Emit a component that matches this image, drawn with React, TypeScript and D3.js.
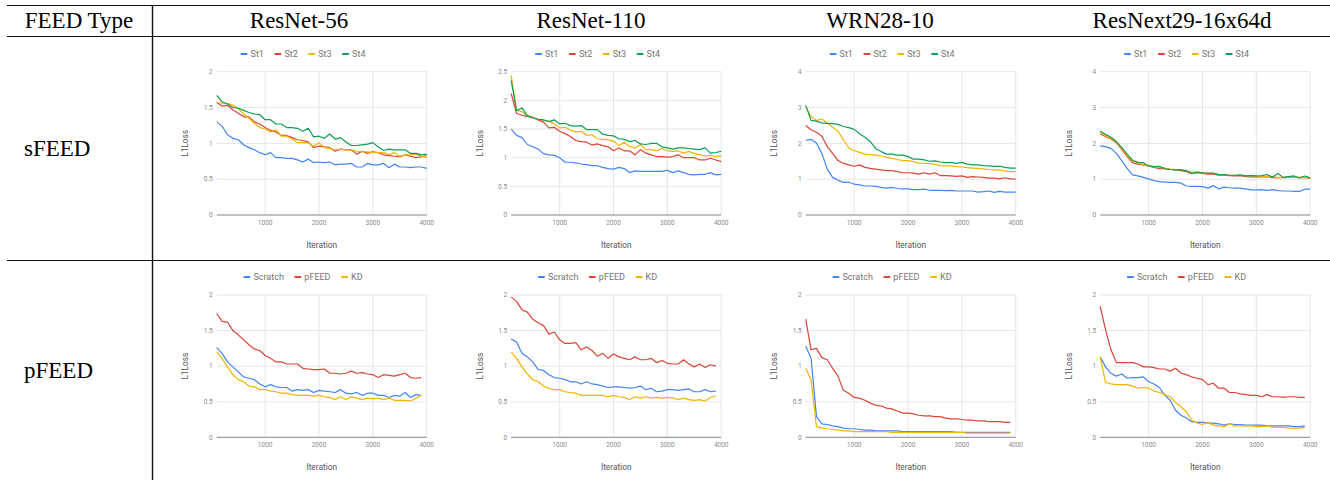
import React, { useEffect, useRef } from 'react';
import * as d3 from 'd3';

const MODELS = ['ResNet-56', 'ResNet-110', 'WRN28-10', 'ResNext29-16x64d'];
const MODEL_CENTERS = [299, 591, 880, 1182];
const ROWS = ['sFEED', 'pFEED'];
const S_NAMES = ['St1', 'St2', 'St3', 'St4'];
const P_NAMES = ['Scratch', 'pFEED', 'KD'];
const S_COLORS = ['#4285F4', '#DB4437', '#F4B400', '#0F9D58'];
const P_COLORS = ['#4285F4', '#DB4437', '#F4B400'];

const ITER_S = [100, 200, 300, 400, 500, 600, 700, 800, 900, 1000, 1100, 1200, 1300, 1400, 1500, 1600, 1700, 1800, 1900, 2000,
  2100, 2200, 2300, 2400, 2500, 2600, 2700, 2800, 2900, 3000, 3100, 3200, 3300, 3400, 3500, 3600, 3700, 3800, 3900, 4000];
const ITER_P = [100, 200, 300, 400, 500, 600, 700, 800, 900, 1000, 1100, 1200, 1300, 1400, 1500, 1600, 1700, 1800, 1900, 2000,
  2100, 2200, 2300, 2400, 2500, 2600, 2700, 2800, 2900, 3000, 3100, 3200, 3300, 3400, 3500, 3600, 3700, 3800, 3900];
const X_TICKS = [1000, 2000, 3000, 4000];
const Y_TICKS_S = [[0, 0.5, 1, 1.5, 2], [0, 0.5, 1, 1.5, 2, 2.5], [0, 1, 2, 3, 4], [0, 1, 2, 3, 4]];
const Y_TICKS_P = [0, 0.5, 1, 1.5, 2];

// sFEED, ResNet-56
const R56_ST1 = [1.30, 1.24, 1.12, 1.07, 1.05, 0.98, 0.94, 0.91, 0.87, 0.84, 0.87, 0.80, 0.80, 0.79, 0.79, 0.77, 0.74, 0.78, 0.73, 0.74,
  0.73, 0.74, 0.70, 0.71, 0.71, 0.72, 0.67, 0.67, 0.72, 0.70, 0.70, 0.72, 0.66, 0.71, 0.67, 0.67, 0.66, 0.67, 0.67, 0.65];
const R56_ST2 = [1.57, 1.52, 1.53, 1.47, 1.42, 1.37, 1.37, 1.30, 1.27, 1.22, 1.18, 1.16, 1.11, 1.11, 1.08, 1.05, 1.04, 1.02, 0.94, 0.96,
  0.95, 0.94, 0.89, 0.92, 0.91, 0.91, 0.85, 0.89, 0.86, 0.88, 0.87, 0.84, 0.83, 0.82, 0.81, 0.84, 0.82, 0.80, 0.81, 0.83];
const R56_ST3 = [1.57, 1.56, 1.56, 1.53, 1.49, 1.41, 1.35, 1.28, 1.22, 1.20, 1.16, 1.19, 1.10, 1.10, 1.06, 1.01, 1.01, 1.01, 0.96, 1.01,
  0.94, 0.93, 0.91, 0.92, 0.91, 0.91, 0.89, 0.88, 0.88, 0.87, 0.87, 0.87, 0.84, 0.87, 0.82, 0.84, 0.84, 0.85, 0.82, 0.80];
const R56_ST4 = [1.67, 1.58, 1.55, 1.50, 1.49, 1.46, 1.43, 1.41, 1.40, 1.33, 1.33, 1.27, 1.27, 1.22, 1.22, 1.21, 1.17, 1.21, 1.09, 1.10,
  1.07, 1.13, 1.06, 1.08, 1.02, 0.97, 0.97, 0.98, 0.99, 1.01, 0.95, 0.90, 0.92, 0.91, 0.91, 0.91, 0.86, 0.86, 0.84, 0.85];

// sFEED, ResNet-110
const R110_ST1 = [1.50, 1.39, 1.35, 1.23, 1.19, 1.15, 1.07, 1.05, 1.04, 1.00, 0.92, 0.92, 0.91, 0.89, 0.88, 0.86, 0.86, 0.83, 0.81, 0.80,
  0.83, 0.81, 0.74, 0.77, 0.76, 0.76, 0.76, 0.76, 0.76, 0.78, 0.74, 0.77, 0.74, 0.71, 0.70, 0.71, 0.71, 0.74, 0.70, 0.71];
const R110_ST2 = [2.12, 1.77, 1.74, 1.72, 1.70, 1.66, 1.62, 1.52, 1.53, 1.46, 1.42, 1.37, 1.30, 1.28, 1.27, 1.22, 1.24, 1.21, 1.19, 1.12,
  1.17, 1.12, 1.12, 1.05, 1.14, 1.08, 1.05, 1.02, 1.02, 1.01, 1.02, 1.05, 1.00, 1.00, 1.00, 0.96, 0.96, 0.99, 0.96, 0.93];
const R110_ST3 = [2.43, 1.83, 1.80, 1.74, 1.70, 1.67, 1.65, 1.64, 1.59, 1.52, 1.53, 1.48, 1.45, 1.46, 1.39, 1.40, 1.33, 1.32, 1.31, 1.29,
  1.21, 1.27, 1.19, 1.17, 1.23, 1.14, 1.14, 1.12, 1.16, 1.12, 1.11, 1.12, 1.08, 1.11, 1.07, 1.05, 1.03, 1.04, 1.02, 1.03];
const R110_ST4 = [2.35, 1.82, 1.87, 1.73, 1.70, 1.67, 1.66, 1.63, 1.66, 1.59, 1.60, 1.56, 1.55, 1.56, 1.49, 1.49, 1.49, 1.41, 1.39, 1.38,
  1.33, 1.32, 1.28, 1.30, 1.24, 1.23, 1.25, 1.25, 1.19, 1.17, 1.15, 1.17, 1.17, 1.16, 1.15, 1.14, 1.17, 1.08, 1.09, 1.11];

// sFEED, WRN28-10
const WRN_ST1 = [2.08, 2.11, 2.01, 1.72, 1.28, 1.05, 0.97, 0.91, 0.92, 0.86, 0.84, 0.81, 0.81, 0.80, 0.77, 0.75, 0.77, 0.74, 0.73, 0.73,
  0.71, 0.71, 0.72, 0.69, 0.69, 0.69, 0.68, 0.69, 0.67, 0.67, 0.67, 0.67, 0.64, 0.65, 0.67, 0.63, 0.66, 0.64, 0.64, 0.64];
const WRN_ST2 = [2.50, 2.38, 2.31, 2.20, 1.91, 1.72, 1.52, 1.44, 1.40, 1.36, 1.40, 1.33, 1.30, 1.28, 1.26, 1.24, 1.24, 1.21, 1.18, 1.18,
  1.17, 1.14, 1.18, 1.14, 1.18, 1.10, 1.10, 1.09, 1.08, 1.09, 1.05, 1.07, 1.06, 1.05, 1.03, 1.03, 1.01, 1.04, 1.01, 1.00];
const WRN_ST3 = [3.02, 2.74, 2.64, 2.68, 2.57, 2.45, 2.34, 2.10, 1.87, 1.80, 1.75, 1.70, 1.68, 1.68, 1.64, 1.61, 1.58, 1.55, 1.52, 1.52,
  1.49, 1.45, 1.44, 1.44, 1.41, 1.38, 1.37, 1.37, 1.35, 1.34, 1.32, 1.31, 1.30, 1.29, 1.27, 1.26, 1.25, 1.23, 1.21, 1.21];
const WRN_ST4 = [3.06, 2.64, 2.62, 2.57, 2.56, 2.55, 2.53, 2.47, 2.44, 2.39, 2.27, 2.17, 2.05, 1.85, 1.77, 1.70, 1.70, 1.67, 1.67, 1.63,
  1.56, 1.56, 1.54, 1.50, 1.51, 1.48, 1.46, 1.47, 1.44, 1.47, 1.42, 1.40, 1.40, 1.38, 1.37, 1.36, 1.36, 1.33, 1.31, 1.31];

// sFEED, ResNext29-16x64d
const RNX_ST1 = [1.93, 1.91, 1.86, 1.72, 1.52, 1.30, 1.12, 1.09, 1.05, 1.01, 0.96, 0.93, 0.92, 0.91, 0.91, 0.89, 0.81, 0.80, 0.80, 0.79,
  0.75, 0.82, 0.73, 0.78, 0.76, 0.75, 0.75, 0.73, 0.70, 0.70, 0.71, 0.69, 0.71, 0.68, 0.67, 0.67, 0.66, 0.66, 0.72, 0.72];
const RNX_ST2 = [2.26, 2.19, 2.12, 2.02, 1.83, 1.63, 1.46, 1.42, 1.40, 1.37, 1.33, 1.29, 1.30, 1.27, 1.26, 1.24, 1.21, 1.16, 1.18, 1.16,
  1.14, 1.14, 1.11, 1.11, 1.10, 1.09, 1.10, 1.07, 1.06, 1.07, 1.06, 1.07, 1.04, 1.04, 1.04, 1.05, 1.05, 1.04, 1.05, 1.02];
const RNX_ST3 = [2.30, 2.21, 2.14, 2.03, 1.86, 1.66, 1.51, 1.46, 1.40, 1.38, 1.35, 1.33, 1.31, 1.28, 1.27, 1.26, 1.23, 1.20, 1.20, 1.18,
  1.16, 1.16, 1.13, 1.13, 1.11, 1.11, 1.11, 1.09, 1.09, 1.07, 1.07, 1.08, 1.07, 1.05, 1.05, 1.06, 1.06, 1.05, 1.05, 1.03];
const RNX_ST4 = [2.34, 2.25, 2.17, 2.05, 1.89, 1.70, 1.53, 1.47, 1.46, 1.37, 1.35, 1.36, 1.29, 1.27, 1.26, 1.26, 1.24, 1.15, 1.20, 1.18,
  1.17, 1.17, 1.13, 1.13, 1.11, 1.11, 1.12, 1.09, 1.10, 1.09, 1.10, 1.13, 1.06, 1.16, 1.05, 1.07, 1.09, 1.04, 1.09, 1.04];

// pFEED, ResNet-56
const R56_SCRATCH = [1.26, 1.18, 1.06, 0.99, 0.92, 0.85, 0.83, 0.81, 0.75, 0.71, 0.74, 0.71, 0.70, 0.70, 0.65, 0.67, 0.66, 0.67, 0.63, 0.66,
  0.65, 0.64, 0.63, 0.67, 0.62, 0.61, 0.63, 0.59, 0.62, 0.62, 0.59, 0.59, 0.56, 0.59, 0.58, 0.63, 0.56, 0.60, 0.59];
const R56_PFEED = [1.74, 1.63, 1.62, 1.50, 1.44, 1.37, 1.30, 1.24, 1.22, 1.15, 1.11, 1.06, 1.06, 1.03, 1.03, 1.03, 0.97, 0.96, 0.95, 0.95,
  0.96, 0.90, 0.90, 0.89, 0.90, 0.93, 0.90, 0.91, 0.89, 0.88, 0.84, 0.88, 0.87, 0.86, 0.88, 0.90, 0.84, 0.83, 0.84];
const R56_KD = [1.20, 1.11, 0.99, 0.88, 0.81, 0.78, 0.72, 0.71, 0.67, 0.67, 0.65, 0.64, 0.62, 0.62, 0.60, 0.59, 0.59, 0.59, 0.58, 0.59,
  0.57, 0.56, 0.53, 0.57, 0.53, 0.57, 0.55, 0.53, 0.55, 0.54, 0.55, 0.53, 0.55, 0.52, 0.52, 0.52, 0.51, 0.55, 0.59];

// pFEED, ResNet-110
const R110_SCRATCH = [1.38, 1.34, 1.18, 1.13, 1.06, 0.95, 0.94, 0.88, 0.84, 0.83, 0.81, 0.78, 0.78, 0.75, 0.78, 0.75, 0.74, 0.72, 0.70, 0.71,
  0.71, 0.70, 0.69, 0.70, 0.72, 0.67, 0.69, 0.64, 0.65, 0.67, 0.67, 0.66, 0.67, 0.68, 0.64, 0.64, 0.67, 0.64, 0.65];
const R110_PFEED = [1.97, 1.91, 1.79, 1.76, 1.66, 1.61, 1.57, 1.45, 1.48, 1.37, 1.32, 1.32, 1.33, 1.23, 1.27, 1.22, 1.14, 1.18, 1.11, 1.17,
  1.13, 1.11, 1.09, 1.13, 1.09, 1.09, 1.11, 1.05, 1.08, 1.04, 1.03, 1.03, 1.09, 1.03, 0.99, 1.03, 0.98, 1.02, 1.00];
const R110_KD = [1.20, 1.11, 0.99, 0.89, 0.81, 0.78, 0.72, 0.69, 0.67, 0.67, 0.64, 0.63, 0.62, 0.59, 0.59, 0.59, 0.59, 0.59, 0.57, 0.59,
  0.57, 0.56, 0.53, 0.57, 0.55, 0.57, 0.55, 0.56, 0.55, 0.56, 0.55, 0.53, 0.55, 0.53, 0.52, 0.53, 0.51, 0.56, 0.58];

// pFEED, WRN28-10
const WRN_SCRATCH = [1.28, 1.11, 0.29, 0.19, 0.18, 0.16, 0.15, 0.13, 0.12, 0.12, 0.11, 0.10, 0.10, 0.09, 0.09, 0.09, 0.09, 0.09, 0.08, 0.08,
  0.08, 0.08, 0.08, 0.08, 0.08, 0.08, 0.08, 0.08, 0.07, 0.07, 0.07, 0.07, 0.07, 0.07, 0.07, 0.07, 0.07, 0.07, 0.07];
const WRN_PFEED = [1.66, 1.23, 1.25, 1.12, 1.09, 0.97, 0.86, 0.66, 0.62, 0.56, 0.55, 0.52, 0.48, 0.45, 0.44, 0.41, 0.40, 0.37, 0.34, 0.34,
  0.33, 0.31, 0.30, 0.30, 0.29, 0.29, 0.27, 0.26, 0.26, 0.25, 0.24, 0.24, 0.23, 0.23, 0.22, 0.22, 0.22, 0.21, 0.21];
const WRN_KD = [0.97, 0.81, 0.15, 0.13, 0.12, 0.11, 0.10, 0.09, 0.09, 0.08, 0.08, 0.08, 0.08, 0.08, 0.08, 0.08, 0.07, 0.07, 0.07, 0.07,
  0.07, 0.07, 0.07, 0.07, 0.07, 0.07, 0.07, 0.07, 0.07, 0.07, 0.06, 0.06, 0.06, 0.06, 0.06, 0.06, 0.06, 0.06, 0.06];

// pFEED, ResNext29-16x64d
const RNX_SCRATCH = [1.13, 0.99, 0.90, 0.86, 0.89, 0.83, 0.84, 0.84, 0.85, 0.78, 0.75, 0.70, 0.59, 0.52, 0.38, 0.31, 0.27, 0.22, 0.21, 0.21,
  0.20, 0.20, 0.19, 0.17, 0.19, 0.18, 0.18, 0.17, 0.17, 0.17, 0.17, 0.16, 0.16, 0.16, 0.16, 0.16, 0.15, 0.15, 0.16];
const RNX_PFEED = [1.84, 1.51, 1.23, 1.05, 1.05, 1.05, 1.05, 1.03, 0.99, 0.99, 0.98, 0.96, 0.96, 0.93, 0.97, 0.90, 0.88, 0.85, 0.83, 0.81,
  0.74, 0.76, 0.69, 0.69, 0.63, 0.63, 0.61, 0.60, 0.59, 0.59, 0.57, 0.60, 0.57, 0.57, 0.56, 0.57, 0.57, 0.56, 0.56];
const RNX_KD = [1.13, 0.77, 0.75, 0.74, 0.74, 0.74, 0.72, 0.69, 0.70, 0.69, 0.65, 0.63, 0.60, 0.57, 0.49, 0.43, 0.36, 0.24, 0.20, 0.18,
  0.21, 0.17, 0.16, 0.15, 0.19, 0.16, 0.16, 0.16, 0.16, 0.15, 0.15, 0.16, 0.14, 0.14, 0.14, 0.13, 0.13, 0.13, 0.14];

const S_SERIES = [
  [R56_ST1, R56_ST2, R56_ST3, R56_ST4],
  [R110_ST1, R110_ST2, R110_ST3, R110_ST4],
  [WRN_ST1, WRN_ST2, WRN_ST3, WRN_ST4],
  [RNX_ST1, RNX_ST2, RNX_ST3, RNX_ST4],
];
const P_SERIES = [
  [R56_SCRATCH, R56_PFEED, R56_KD],
  [R110_SCRATCH, R110_PFEED, R110_KD],
  [WRN_SCRATCH, WRN_PFEED, WRN_KD],
  [RNX_SCRATCH, RNX_PFEED, RNX_KD],
];

const W = 1330;
const H = 480;
const FONT = 'Roboto, "Noto Sans", sans-serif';
const SERIF = '"Liberation Serif", "DejaVu Serif", serif';

export default function App() {
  const svgRef = useRef<SVGSVGElement>(null);

  useEffect(() => {
    const svg = d3.select(svgRef.current);
    svg.selectAll('*').remove();

    const colLeft = 152;
    const colW = 294.5;
    const plotOff = 64.7;
    const plotW = 210;
    const rows = [
      { top: 71.7, bottom: 215, legendY: 54, tickY: 225, titleY: 247.5, names: S_NAMES, colors: S_COLORS, iters: ITER_S, series: S_SERIES },
      { top: 295, bottom: 437.3, legendY: 277, tickY: 446.8, titleY: 469.5, names: P_NAMES, colors: P_COLORS, iters: ITER_P, series: P_SERIES },
    ];

    // table rules
    const rules = svg.append('g').attr('stroke', '#111').attr('stroke-width', 1);
    rules.append('line').attr('x1', 7).attr('x2', W).attr('y1', 5.5).attr('y2', 5.5);
    rules.append('line').attr('x1', 7).attr('x2', W).attr('y1', 36.5).attr('y2', 36.5);
    rules.append('line').attr('x1', 7).attr('x2', W).attr('y1', 260.5).attr('y2', 260.5);
    rules.append('line').attr('x1', 152.5).attr('x2', 152.5).attr('y1', 5).attr('y2', H).attr('stroke-width', 1.4);

    svg.append('text')
      .attr('x', 79).attr('y', 28)
      .attr('text-anchor', 'middle')
      .attr('font-family', SERIF).attr('font-size', 23)
      .text('FEED Type');

    MODELS.forEach((m, i) => {
      svg.append('text')
        .attr('x', MODEL_CENTERS[i]).attr('y', 28)
        .attr('text-anchor', 'middle')
        .attr('font-family', SERIF).attr('font-size', 23)
        .text(m);
    });

    ROWS.forEach((r, ri) => {
      svg.append('text')
        .attr('x', 24).attr('y', ri === 0 ? 156 : 378)
        .attr('font-family', SERIF).attr('font-size', 23)
        .text(r);
    });

    rows.forEach((row, ri) => {
      MODELS.forEach((_, ci) => {
        const cx = colLeft + ci * colW;
        const left = cx + plotOff;
        const yTicks = ri === 0 ? Y_TICKS_S[ci] : Y_TICKS_P;
        const yMax = yTicks[yTicks.length - 1];

        const x = d3.scaleLinear().domain([100, 4000]).range([left, left + plotW]);
        const y = d3.scaleLinear().domain([0, yMax]).range([row.bottom, row.top]);

        const g = svg.append('g');

        // gridlines
        yTicks.filter(t => t > 0).forEach(t => {
          g.append('line')
            .attr('x1', left).attr('x2', left + plotW)
            .attr('y1', y(t)).attr('y2', y(t))
            .attr('stroke', '#e0e0e0').attr('stroke-width', 0.8);
        });
        X_TICKS.forEach(t => {
          g.append('line')
            .attr('x1', x(t)).attr('x2', x(t))
            .attr('y1', row.top).attr('y2', row.bottom)
            .attr('stroke', '#e0e0e0').attr('stroke-width', 0.8);
        });

        // tick labels
        yTicks.forEach(t => {
          g.append('text')
            .attr('x', left - 4).attr('y', y(t) + 2.3)
            .attr('text-anchor', 'end')
            .attr('font-family', FONT).attr('font-size', 6.5)
            .attr('fill', '#8a8a8a')
            .text(String(t));
        });
        X_TICKS.forEach(t => {
          g.append('text')
            .attr('x', x(t)).attr('y', row.tickY)
            .attr('text-anchor', 'middle')
            .attr('font-family', FONT).attr('font-size', 6.5)
            .attr('fill', '#8a8a8a')
            .text(String(t));
        });

        // axis titles
        g.append('text')
          .attr('transform', `translate(${cx + 33},${(row.top + row.bottom) / 2}) rotate(-90)`)
          .attr('text-anchor', 'middle')
          .attr('dominant-baseline', 'central')
          .attr('font-family', FONT).attr('font-size', 8.3)
          .attr('fill', '#555')
          .text('L1Loss');
        g.append('text')
          .attr('x', left + plotW / 2).attr('y', row.titleY)
          .attr('text-anchor', 'middle')
          .attr('font-family', FONT).attr('font-size', 8.3)
          .attr('fill', '#555')
          .text('Iteration');

        // lines
        const line = d3.line<number>()
          .x((_, k) => x(row.iters[k]))
          .y(d => y(d));
        row.series[ci].forEach((vals, si) => {
          g.append('path')
            .datum(vals)
            .attr('d', line)
            .attr('fill', 'none')
            .attr('stroke', row.colors[si])
            .attr('stroke-width', 1.2)
            .attr('stroke-linejoin', 'round');
        });

        // baseline
        g.append('line')
          .attr('x1', left).attr('x2', left + plotW)
          .attr('y1', row.bottom).attr('y2', row.bottom)
          .attr('stroke', '#777').attr('stroke-width', 0.9);

        // legend
        const lg = g.append('g');
        let pos = 0;
        row.names.forEach((n, si) => {
          lg.append('rect')
            .attr('x', pos).attr('y', row.legendY - 1.1)
            .attr('width', 7).attr('height', 2.2)
            .attr('rx', 0.8)
            .attr('fill', row.colors[si]);
          const t = lg.append('text')
            .attr('x', pos + 10).attr('y', row.legendY + 3.2)
            .attr('font-family', FONT).attr('font-size', 9)
            .attr('fill', '#757575')
            .text(n);
          const tw = (t.node() as SVGTextElement).getComputedTextLength();
          pos += 10 + tw + (si < row.names.length - 1 ? 10.5 : 0);
        });
        lg.attr('transform', `translate(${cx + 151 - pos / 2},0)`);
      });
    });
  }, []);

  return (
    <div style={{ position: 'absolute', left: 0, top: 0 }}>
      <svg ref={svgRef} width={W} height={H} style={{ display: 'block', background: '#fff' }} />
    </div>
  );
}
